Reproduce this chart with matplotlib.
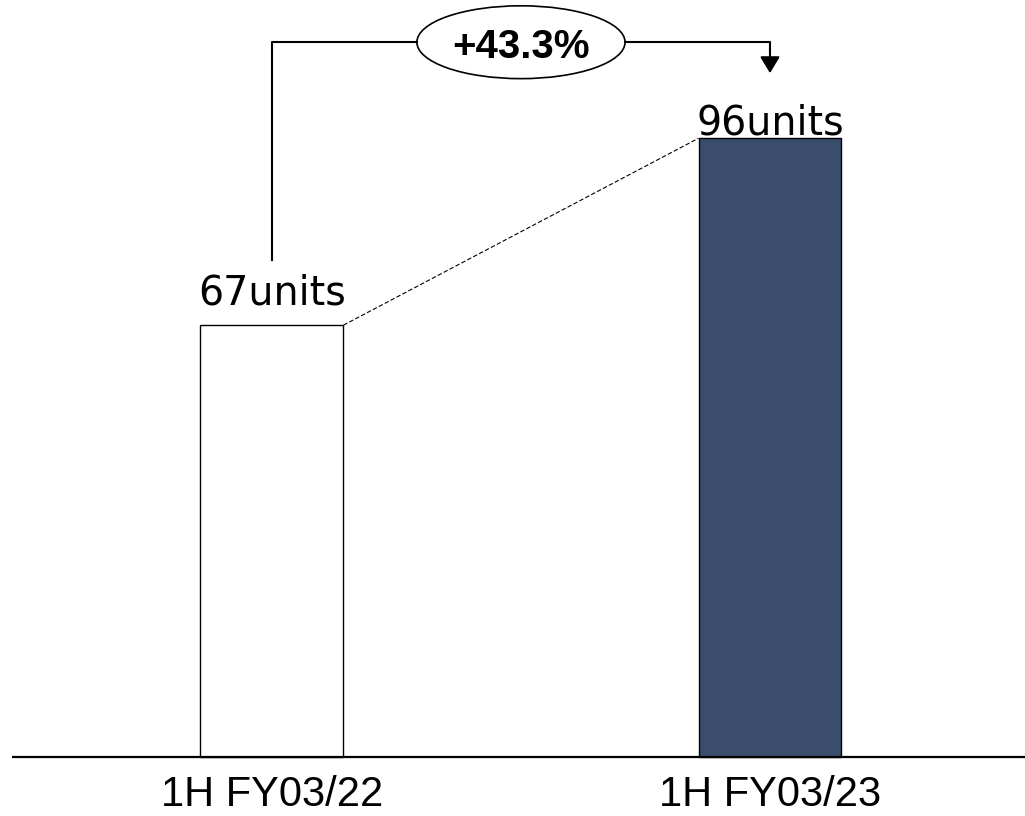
import matplotlib
matplotlib.use("Agg")
import matplotlib.pyplot as plt
from matplotlib.patches import Ellipse

# data
categories = ["1H FY03/22", "1H FY03/23"]
units = [67, 96]
value_labels = ["67units", "96units"]
growth_label = "+43.3%"

bar_colors = ["white", "#3a4d6b"]
label_pad = [15.1, 2.9]  # points between bar top and label baseline

fig = plt.figure(figsize=(10.25, 8.16), dpi=100)
ax = fig.add_axes([0, 0, 1, 1])
ax.set_xlim(-0.546, 1.512)
ax.set_ylim(-9.15, 117.45)
ax.axis("off")

x = list(range(len(categories)))
bar_w = 0.287
ax.bar(x, units, width=bar_w, color=bar_colors, edgecolor="black", linewidth=1)

# baseline
ax.plot([-0.522, 1.512], [0, 0], color="black", linewidth=1.6, solid_capstyle="butt")

# value labels and category labels
for xi, v, lab, cat, pad in zip(x, units, value_labels, categories, label_pad):
    ax.annotate(lab, (xi, v), xytext=(0, pad), textcoords="offset points",
                ha="center", va="baseline", fontsize=28.5, family="DejaVu Sans")
    ax.text(xi, -7.6, cat, ha="center", va="baseline", fontsize=30, family="Liberation Sans")

# dashed connector between bar tops
w = bar_w / 2
ax.plot([x[0] + w, x[1] - w], [units[0], units[1]], color="black",
        linestyle=(0, (4, 2)), linewidth=0.8)

# growth bracket
y_top = 110.9
ell_x = 0.5
ell_w = 0.418
ax.plot([x[0], x[0], ell_x - ell_w / 2], [77.1, y_top, y_top], color="black", linewidth=1.5)
ax.plot([ell_x + ell_w / 2, x[1], x[1]], [y_top, y_top, y_top - 1.5], color="black", linewidth=1.5)
ax.annotate("", xy=(x[1], 106.1), xytext=(x[1], y_top - 1.0),
            arrowprops=dict(arrowstyle="-|>,head_width=0.3,head_length=0.5", mutation_scale=20,
                            color="black", lw=1.5, shrinkA=0, shrinkB=0))
ell = Ellipse((ell_x, y_top), width=ell_w, height=11.3, facecolor="white",
              edgecolor="black", linewidth=1.2)
ax.add_patch(ell)
ax.text(ell_x, 108.46, growth_label, ha="center", va="baseline", fontsize=29,
        fontweight="bold", family="Liberation Sans")

fig.savefig("out.png", dpi=100)
